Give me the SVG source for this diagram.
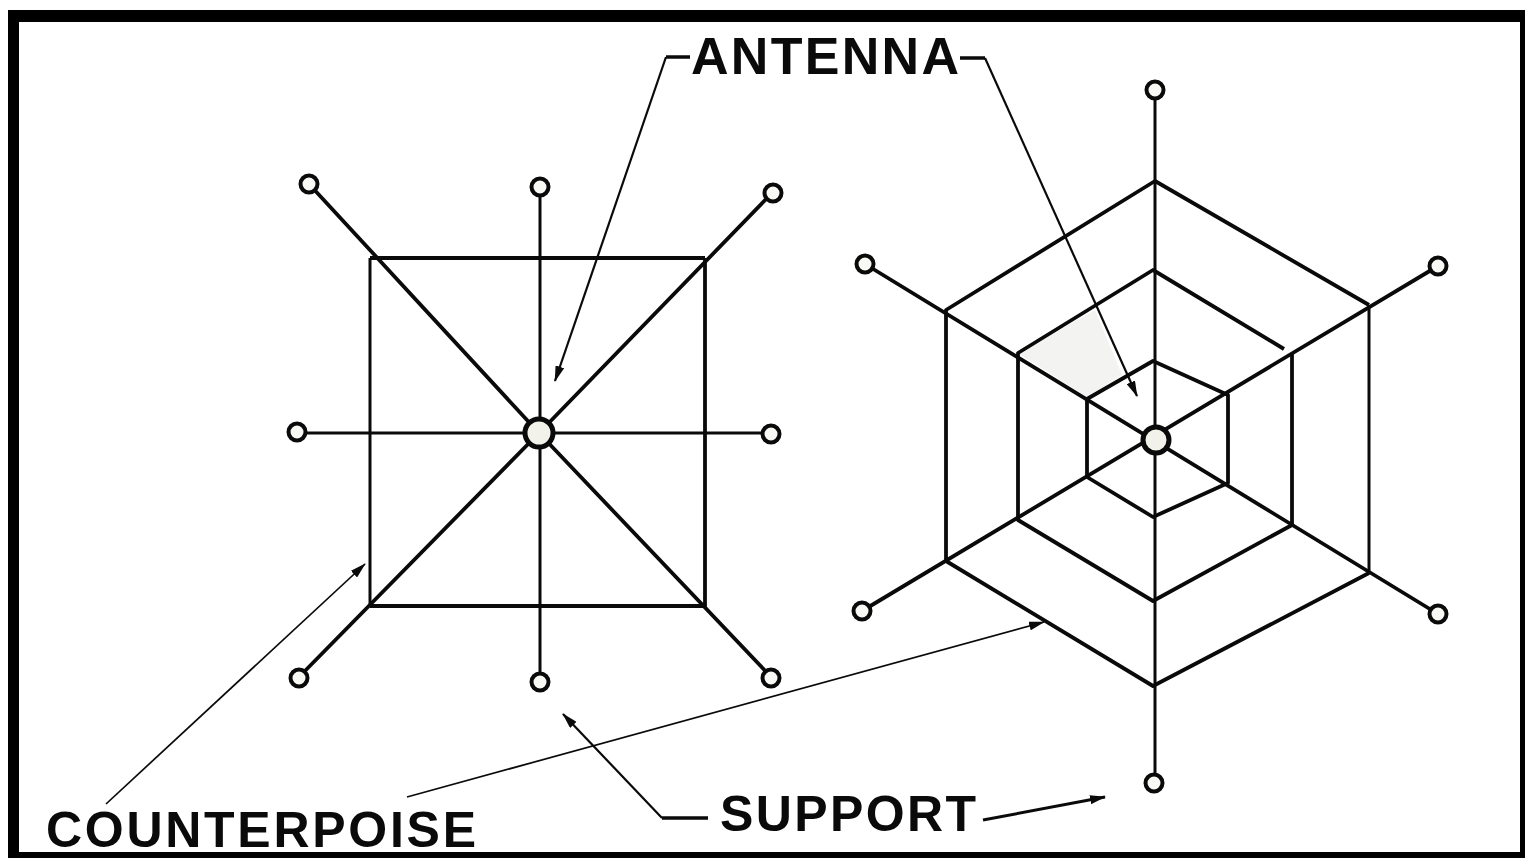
<svg xmlns="http://www.w3.org/2000/svg" width="1525" height="858" viewBox="0 0 1525 858">
<style>
.l{stroke:#0a0a0a;stroke-width:3.8;fill:none;stroke-linejoin:round}
.t{stroke:#0a0a0a;stroke-width:3;fill:none}
.a{stroke:#0a0a0a;stroke-width:2.2;fill:none}
.s{stroke:#0a0a0a;stroke-width:3.5;fill:none}
.n{stroke:#0a0a0a;stroke-width:4;fill:#f8f8f4}
.c{stroke:#0a0a0a;stroke-width:5;fill:#f2f2ea}
text{font-family:"Liberation Sans",Arial,sans-serif;font-weight:bold;fill:#0a0a0a}
</style>
<defs><marker id="ah" markerWidth="16" markerHeight="9" refX="15" refY="4.5" orient="auto" markerUnits="userSpaceOnUse"><path d="M0 0L16 4.5L0 9Z" fill="#0a0a0a"/></marker></defs>
<rect x="0" y="0" width="1525" height="858" fill="#fff"/>
<path d="M8 10H1525V858H8ZM19 22V852H1520V22Z" fill="#000" fill-rule="evenodd"/>
<path d="M1018 353L1095 310L1122 375L1087 397Z" fill="#f3f3f1"/>
<g id="connectors">
<path class="s" d="M690 57H666"/>
<path class="s" d="M960 58H985"/>
<path class="a" marker-end="url(#ah)" d="M666 57L555 381"/>
<path class="a" marker-end="url(#ah)" d="M985 58L1137 396"/>
<path class="a" style="stroke-width:1.7" marker-end="url(#ah)" d="M106 804L365 564"/>
<path class="a" style="stroke-width:1.7" marker-end="url(#ah)" d="M407 797L1044 622"/>
<path class="s" d="M708 818H662"/>
<path class="a" marker-end="url(#ah)" d="M662 818L563 714"/>
<path class="s" style="stroke-width:3" marker-end="url(#ah)" d="M983 820L1105 797"/>
</g>
<g id="left-antenna">
<path class="l" d="M705 258H370M370 606H705V258"/>
<path class="t" d="M370 258V606"/>
<path class="l" d="M309 184L539 433L772 193M298 678L539 433L772 678"/>
<path class="t" d="M297 433H771M540 187V682"/>
</g>
<g id="right-antenna">
<path class="l" d="M1369 305L1155 181L946 310V561L1153 686L1369 573"/>
<path class="t" d="M1369 305V573"/>
<path class="l" d="M1284 349L1153 270L1018 353V520L1153 601L1292 525V354"/>
<path class="l" d="M1153 361L1228 395V483L1153 517L1087 477V399Z"/>
<path class="l" d="M865 264L1438 614M862 611L1438 266"/>
<path class="t" d="M1155 90V783"/>
</g>
<g id="left-nodes">
<circle class="n" cx="309" cy="184" r="8.5"/><circle class="n" cx="540" cy="187" r="8.5"/><circle class="n" cx="773" cy="193" r="8.5"/>
<circle class="n" cx="297" cy="432" r="8.5"/><circle class="n" cx="771" cy="434" r="8.5"/>
<circle class="n" cx="299" cy="678" r="8.5"/><circle class="n" cx="540" cy="682" r="8.5"/><circle class="n" cx="771" cy="678" r="8.5"/>
<circle class="c" cx="539" cy="433" r="14"/>
</g>
<g id="right-nodes">
<circle class="n" cx="1155" cy="90" r="8.5"/><circle class="n" cx="865" cy="264" r="8.5"/><circle class="n" cx="1438" cy="266" r="8.5"/>
<circle class="n" cx="862" cy="611" r="8.5"/><circle class="n" cx="1438" cy="614" r="8.5"/><circle class="n" cx="1154" cy="783" r="8.5"/>
<circle class="c" cx="1156" cy="440" r="13"/>
</g>
<text x="691" y="74" font-size="52" textLength="268">ANTENNA</text>
<text x="720" y="831" font-size="50" textLength="256">SUPPORT</text>
<text x="46" y="847" font-size="50" textLength="430">COUNTERPOISE</text>
</svg>
